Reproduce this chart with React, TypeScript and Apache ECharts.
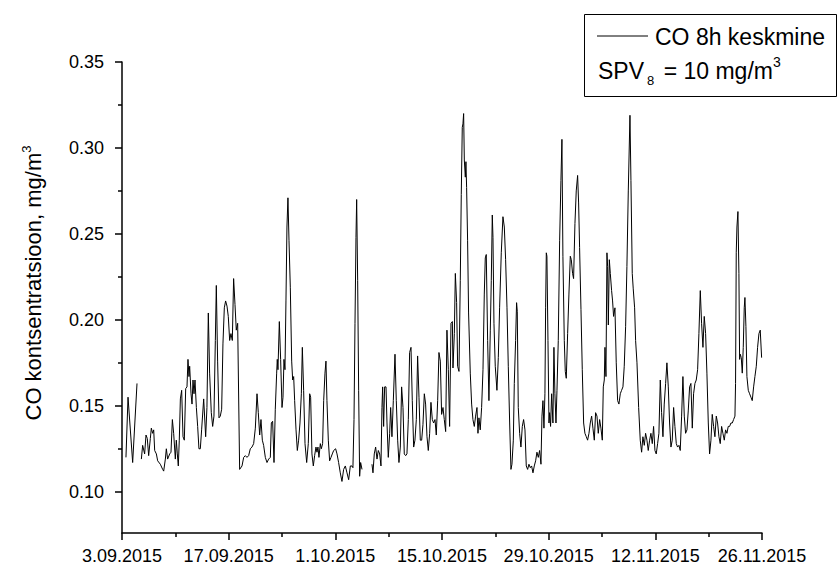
import React, { useEffect, useRef } from 'react';
import * as echarts from 'echarts';

// Series start: 3 September 2015 (day offset 0)
const START_UTC = Date.UTC(2015, 8, 3);
const DAY_MS = 86400000;

// Day offsets from the start date
const dayOffsets = [
  0.52, 0.79, 1.40, 1.97, 2.25, 2.54, 2.71, 2.97, 3.15, 3.32, 3.50, 3.72, 3.85, 4.02, 4.16, 4.29, 4.51, 4.68,
  5.03, 5.34, 5.47, 5.69, 5.82, 5.99, 6.26, 6.43, 6.61, 6.78, 7.00, 7.13, 7.26, 7.39, 7.52, 7.66, 7.83, 8.01,
  8.18, 8.36, 8.53, 8.66, 8.79, 8.88, 9.06, 9.19, 9.32, 9.45, 9.58, 9.76, 9.93, 10.10, 10.28, 10.45, 10.72,
  10.98, 11.15, 11.33, 11.50, 11.72, 11.90, 12.07, 12.25, 12.38, 12.55, 12.73, 12.90, 13.08, 13.25, 13.43,
  13.60, 13.78, 13.95, 14.13, 14.30, 14.48, 14.65, 14.83, 15.00, 15.18, 15.44,
  15.75, 15.97, 16.19, 16.40, 16.62, 16.84, 17.06, 17.28, 17.50, 17.72, 17.89, 18.07, 18.24, 18.42, 18.59,
  18.81, 19.03, 19.25, 19.47, 19.60, 19.77, 19.95, 20.12, 20.30, 20.38, 20.47, 20.65, 20.82, 21.00, 21.13,
  21.26, 21.39, 21.52, 21.65, 21.78, 21.92, 22.09, 22.27, 22.40, 22.53, 22.66, 22.84, 23.01, 23.18, 23.36,
  23.54, 23.67, 23.84, 24.02, 24.24, 24.45, 24.63, 24.76, 24.93, 25.11, 25.28, 25.46, 25.59, 25.72, 25.85,
  26.03, 26.16, 26.33, 26.47, 26.64, 26.77, 26.90, 27.08, 27.25, 27.43, 27.60, 27.78, 28.04, 28.22, 28.43,
  28.65, 28.87, 29.09, 29.31, 29.53, 29.75, 29.97, 30.18, 30.31, 30.45, 30.58, 30.71, 30.80, 30.93, 31.06,
  31.19, 31.32, 31.50, 32.10,
  32.81, 32.94, 33.11, 33.29, 33.47, 33.64, 33.82, 33.99, 34.12, 34.21, 34.34, 34.47, 34.65, 34.78, 34.95,
  35.13, 35.26, 35.43, 35.61, 35.83, 36.00, 36.18, 36.35, 36.53, 36.70, 36.88, 37.05, 37.23, 37.40, 37.58,
  37.75, 37.93, 38.10, 38.28, 38.45, 38.63, 38.80, 38.98, 39.15, 39.33, 39.50, 39.68, 39.85, 40.03, 40.20,
  40.38, 40.55, 40.73, 40.90, 41.08, 41.25, 41.43, 41.60, 41.78, 41.95, 42.13, 42.30, 42.48, 42.65, 42.83,
  43.00, 43.18, 43.36, 43.44, 43.62, 43.75, 43.92, 44.05, 44.23, 44.40, 44.53, 44.66, 44.75, 44.84, 44.93,
  45.06, 45.14, 45.23, 45.36, 45.49, 45.71, 45.89, 46.06, 46.24, 46.41, 46.59, 46.72, 46.85, 47.02, 47.20,
  47.38, 47.55, 47.68, 47.81, 47.99, 48.16, 48.34, 48.47, 48.60, 48.69, 48.82, 48.99, 49.21, 49.39, 49.56,
  49.78, 50.00, 50.18, 50.35, 50.53, 50.70, 50.88, 51.05, 51.18, 51.36, 51.49, 51.66, 51.79, 51.88, 52.01,
  52.19, 52.36, 52.54, 52.71, 52.89, 53.06, 53.24, 53.41, 53.59, 53.76, 53.94, 54.11, 54.29, 54.46, 54.64,
  54.81, 54.99, 55.12, 55.25, 55.38, 55.51, 55.60, 55.69, 55.77, 55.91, 56.04, 56.12, 56.25, 56.39, 56.56,
  56.69, 56.82, 56.96, 57.09, 57.26, 57.44, 57.61, 57.74, 57.87, 58.05, 58.18, 58.31, 58.49, 58.66, 58.84,
  58.97, 59.14, 59.27, 59.45, 59.62, 59.80, 59.93, 60.06, 60.24, 60.41, 60.59, 60.76, 60.94, 61.11, 61.29,
  61.46, 61.64, 61.81, 61.99, 62.16, 62.34, 62.51, 62.69, 62.86, 63.04, 63.17, 63.30, 63.39, 63.52, 63.65,
  63.74, 63.83, 63.96, 64.09, 64.26, 64.39, 64.52, 64.70, 64.87, 65.05, 65.22, 65.40, 65.57, 65.75, 65.92,
  66.10, 66.27, 66.45, 66.67, 66.80, 66.97, 67.10, 67.28, 67.41, 67.59, 67.81, 68.02, 68.20, 68.37, 68.55,
  68.72, 68.90, 69.07, 69.25, 69.42, 69.60, 69.77, 69.95, 70.12, 70.30, 70.47, 70.65, 70.82, 71.00, 71.17,
  71.35, 71.52, 71.70, 71.87, 72.05, 72.22, 72.40, 72.57, 72.75, 72.92, 73.10, 73.27, 73.45, 73.62, 73.80,
  73.97, 74.15, 74.32, 74.50, 74.67, 74.85, 75.02, 75.20, 75.37, 75.55, 75.72, 75.90, 76.07, 76.25, 76.42,
  76.60, 76.77, 76.95, 77.12, 77.30, 77.47, 77.65, 77.82, 78.00, 78.17, 78.35, 78.52, 78.70, 78.87, 79.05,
  79.22, 79.40, 79.57, 79.75, 79.92, 80.10, 80.27, 80.45, 80.53, 80.62, 80.71, 80.84, 80.97, 81.06, 81.15,
  81.28, 81.41, 81.54, 81.67, 81.76, 81.89, 82.02, 82.20, 82.37, 82.55, 82.72, 82.90, 83.07, 83.25, 83.42,
  83.60, 83.77, 83.95
];

// CO 8-hour running mean, mg/m3 (null = no measurement)
const coValues = [
  0.120, 0.155, 0.117, 0.163, null, 0.119, 0.127, 0.122, 0.133, 0.131, 0.121, 0.131, 0.137, 0.134, 0.136, 0.124, 0.122, 0.118,
  0.116, 0.113, 0.112, 0.119, 0.125, 0.119, 0.122, 0.123, 0.142, 0.134, 0.119, 0.130, 0.122, 0.115, 0.130, 0.154, 0.159, 0.132,
  0.130, 0.160, 0.161, 0.177, 0.167, 0.173, 0.157, 0.151, 0.165, 0.157, 0.165, 0.149, 0.138, 0.125, 0.125, 0.136, 0.154,
  0.132, 0.149, 0.204, 0.169, 0.146, 0.138, 0.144, 0.188, 0.220, 0.176, 0.143, 0.144, 0.148, 0.186, 0.207,
  0.211, 0.208, 0.202, 0.188, 0.192, 0.188, 0.224, 0.209, 0.194, 0.198, 0.113,
  0.115, 0.120, 0.121, 0.120, 0.121, 0.125, 0.126, 0.128, 0.137, 0.157, 0.146, 0.133, 0.142, 0.130, 0.127,
  0.120, 0.117, 0.119, 0.120, 0.140, 0.141, 0.117, 0.148, 0.169, 0.177, 0.171, 0.199, 0.177, 0.149, 0.155,
  0.177, 0.171, 0.211, 0.254, 0.271, 0.246, 0.219, 0.176, 0.165, 0.167, 0.153, 0.136, 0.124, 0.130, 0.140,
  0.157, 0.184, 0.159, 0.128, 0.117, 0.128, 0.157, 0.155, 0.122, 0.115, 0.121, 0.126, 0.123, 0.126, 0.120,
  0.128, 0.125, 0.128, 0.153, 0.169, 0.176, 0.153, 0.130, 0.118, 0.120, 0.122, 0.124, 0.125, 0.122, 0.117,
  0.111, 0.106, 0.113, 0.115, 0.111, 0.107, 0.115, 0.115, 0.114, 0.142, 0.198, 0.248, 0.270, 0.223, 0.159,
  0.109, 0.117, 0.113, null,
  0.116, 0.111, 0.122, 0.126, 0.119, 0.124, 0.122, 0.115, 0.149, 0.161, 0.138, 0.161, 0.161, 0.140, 0.120,
  0.134, 0.149, 0.132, 0.153, 0.180, 0.153, 0.130, 0.117, 0.126, 0.161, 0.149, 0.122, 0.121, 0.122, 0.142,
  0.181, 0.184, 0.153, 0.126, 0.130, 0.142, 0.179, 0.155, 0.130, 0.130, 0.139, 0.157, 0.151, 0.132, 0.124,
  0.134, 0.152, 0.142, 0.140, 0.142, 0.133, 0.153, 0.181, 0.176, 0.145, 0.149, 0.142, 0.135, 0.194, 0.171,
  0.138, 0.198, 0.199, 0.172, 0.192, 0.227, 0.210, 0.173, 0.170, 0.223, 0.273, 0.312, 0.314, 0.320, 0.293,
  0.283, 0.292, 0.277, 0.246, 0.204, 0.169, 0.151, 0.142, 0.138, 0.144, 0.149, 0.134, 0.143, 0.136, 0.149,
  0.171, 0.215, 0.236, 0.238, 0.188, 0.153, 0.194, 0.223, 0.261, 0.248, 0.198, 0.173, 0.159, 0.178, 0.207,
  0.239, 0.260, 0.254, 0.235, 0.207, 0.173, 0.140, 0.113, 0.116, 0.130, 0.163, 0.188, 0.210, 0.205, 0.149,
  0.134, 0.126, 0.138, 0.142, 0.136, 0.115, 0.113, 0.116, 0.114, 0.115, 0.111, 0.115, 0.118, 0.123, 0.120,
  0.124, 0.116, 0.144, 0.153, 0.137, 0.157, 0.207, 0.239, 0.237, 0.188, 0.140, 0.146, 0.138, 0.157, 0.140,
  0.184, 0.157, 0.140, 0.159, 0.188, 0.246, 0.281, 0.305, 0.237, 0.188, 0.170, 0.166, 0.192, 0.215, 0.237,
  0.235, 0.227, 0.224, 0.256, 0.275, 0.284, 0.268, 0.242, 0.206, 0.171, 0.140, 0.134, 0.132, 0.130, 0.134,
  0.140, 0.144, 0.137, 0.130, 0.146, 0.144, 0.134, 0.142, 0.137, 0.130, 0.161, 0.165, 0.184, 0.167, 0.239,
  0.231, 0.197, 0.235, 0.227, 0.217, 0.211, 0.202, 0.207, 0.175, 0.153, 0.151, 0.157, 0.159, 0.161, 0.173,
  0.196, 0.231, 0.275, 0.319, 0.281, 0.227, 0.218, 0.207, 0.188, 0.175, 0.149, 0.130, 0.123, 0.132, 0.127,
  0.134, 0.130, 0.124, 0.130, 0.134, 0.128, 0.138, 0.124, 0.122, 0.128, 0.134, 0.165, 0.146, 0.132, 0.151,
  0.163, 0.175, 0.161, 0.140, 0.126, 0.130, 0.149, 0.138, 0.128, 0.126, 0.127, 0.124, 0.144, 0.167, 0.144,
  0.134, 0.136, 0.147, 0.161, 0.163, 0.137, 0.157, 0.163, 0.165, 0.171, 0.192, 0.217, 0.198, 0.184, 0.202,
  0.192, 0.169, 0.140, 0.122, 0.130, 0.145, 0.138, 0.132, 0.144, 0.140, 0.132, 0.128, 0.138, 0.134, 0.130,
  0.136, 0.134, 0.138, 0.138, 0.140, 0.140, 0.142, 0.144, 0.163, 0.239, 0.254, 0.263, 0.227, 0.177, 0.180,
  0.178, 0.169, 0.184, 0.207, 0.213, 0.196, 0.167, 0.159, 0.157, 0.155, 0.153, 0.161, 0.167, 0.173, 0.184,
  0.192, 0.194, 0.178
];

// Axis set-up
const X_MIN_DAY = 0;
const X_MAX_DAY = 84;
const X_TICK_DAYS = 14;
const Y_MIN = 0.076;
const Y_MAX = 0.35;
const yMajorTicks = [0.1, 0.15, 0.2, 0.25, 0.3, 0.35];
const yMinorTicks = [0.125, 0.175, 0.225, 0.275, 0.325];

const FONT = '"Liberation Sans", Arial, sans-serif';

function dateLabel(day: number): string {
  const d = new Date(START_UTC + Math.round(day) * DAY_MS);
  const mm = String(d.getUTCMonth() + 1).padStart(2, '0');
  return `${d.getUTCDate()}.${mm}.${d.getUTCFullYear()}`;
}

export default function App() {
  const ref = useRef<HTMLDivElement>(null);

  useEffect(() => {
    if (!ref.current) return;
    const chart = echarts.init(ref.current, undefined, { renderer: 'svg' });

    const seriesData = dayOffsets.map((d, i) => [d, coValues[i] === null ? '-' : coValues[i]]);

    const axisLine = { show: true, onZero: false, lineStyle: { color: '#000', width: 1.5 } };

    chart.setOption({
      animation: false,
      backgroundColor: '#fff',
      grid: { left: 122, right: 78, top: 62, bottom: 35, containLabel: false, outerBoundsMode: 'none' },
      xAxis: {
        type: 'value',
        min: X_MIN_DAY,
        max: X_MAX_DAY,
        interval: X_TICK_DAYS,
        axisLine,
        axisTick: { show: true, inside: false, length: 7, lineStyle: { color: '#000', width: 1.5 } },
        minorTick: { show: true, splitNumber: 2, length: 4, lineStyle: { color: '#000', width: 1.5 } },
        splitLine: { show: false },
        minorSplitLine: { show: false },
        axisLabel: {
          margin: 14,
          color: '#000',
          fontFamily: FONT,
          fontSize: 18,
          formatter: (v: number) => dateLabel(v),
        },
      },
      yAxis: [
        {
          type: 'value',
          min: Y_MIN,
          max: Y_MAX,
          position: 'left',
          axisLine,
          axisTick: { show: true, inside: false, length: 7, customValues: yMajorTicks, lineStyle: { color: '#000', width: 1.5 } },
          splitLine: { show: false },
          axisLabel: {
            customValues: yMajorTicks,
            margin: 18,
            color: '#000',
            fontFamily: FONT,
            fontSize: 18,
            formatter: (v: number) => v.toFixed(2),
          },
        },
        {
          type: 'value',
          min: Y_MIN,
          max: Y_MAX,
          position: 'left',
          axisLine: { show: false },
          axisTick: { show: true, inside: false, length: 4, customValues: yMinorTicks, lineStyle: { color: '#000', width: 1.5 } },
          axisLabel: { show: false },
          splitLine: { show: false },
        },
      ],
      series: [
        {
          type: 'line',
          name: 'CO 8h keskmine',
          data: seriesData,
          showSymbol: false,
          connectNulls: false,
          lineStyle: { color: '#000', width: 1 },
          xAxisIndex: 0,
          yAxisIndex: 0,
        },
      ],
      graphic: [
        {
          type: 'text',
          x: 33,
          y: 283,
          rotation: Math.PI / 2,
          style: {
            text: 'CO kontsentratsioon, mg/m{sup|3}',
            fontFamily: FONT,
            fontSize: 22,
            fill: '#000',
            align: 'center',
            verticalAlign: 'middle',
            lineHeight: 26,
            rich: {
              sup: { fontFamily: FONT, fontSize: 13, verticalAlign: 'top', lineHeight: 13, fill: '#000' },
            },
          },
        },
        {
          type: 'rect',
          shape: { x: 584.5, y: 14.5, width: 252, height: 82 },
          style: { fill: '#fff', stroke: '#000', lineWidth: 1 },
        },
        {
          type: 'line',
          shape: { x1: 597, y1: 36, x2: 648, y2: 36 },
          style: { stroke: '#000', lineWidth: 1 },
        },
        {
          type: 'text',
          x: 655,
          y: 37,
          style: {
            text: 'CO 8h keskmine',
            fontFamily: FONT,
            fontSize: 23,
            fill: '#000',
            verticalAlign: 'middle',
          },
        },
        {
          type: 'text',
          x: 598,
          y: 71,
          style: {
            text: 'SPV{sub|8} = 10 mg/m{sup|3}',
            fontFamily: FONT,
            fontSize: 23,
            fill: '#000',
            verticalAlign: 'middle',
            lineHeight: 32,
            rich: {
              sub: { fontFamily: FONT, fontSize: 13, verticalAlign: 'bottom', lineHeight: 13, padding: [0, 3, 0, 3], fill: '#000' },
              sup: { fontFamily: FONT, fontSize: 14, verticalAlign: 'top', lineHeight: 14, fill: '#000' },
            },
          },
        },
      ],
    });

    return () => {
      chart.dispose();
    };
  }, []);

  return (
    <div
      ref={ref}
      style={{ position: 'absolute', left: 0, top: 0, width: 840, height: 568 }}
    />
  );
}
